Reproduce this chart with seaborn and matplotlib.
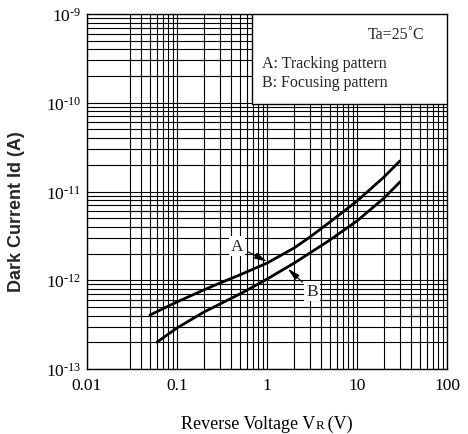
import matplotlib
matplotlib.use("Agg")
import matplotlib.pyplot as plt
import seaborn as sns
import numpy as np
import pandas as pd
from matplotlib.patches import Rectangle
from matplotlib.offsetbox import TextArea, HPacker, AnnotationBbox
from matplotlib.ticker import FixedLocator, FuncFormatter, NullFormatter

# ---- data ----
a_voltage = [0.05, 0.1, 0.2, 0.3, 0.5, 1, 2, 3, 5, 10, 20, 30]
a_current = [4.05e-13, 5.7e-13, 7.8e-13, 9.3e-13, 1.15e-12, 1.56e-12,
             2.31e-12, 3.07e-12, 4.53e-12, 7.8e-12, 1.46e-11, 2.21e-11]
b_voltage = [0.06, 0.1, 0.2, 0.3, 0.5, 1, 2, 3, 5, 10, 20, 30]
b_current = [2.01e-13, 2.9e-13, 4.39e-13, 5.4e-13, 7.0e-13, 1.03e-12,
             1.56e-12, 2.03e-12, 2.84e-12, 4.66e-12, 8.45e-12, 1.28e-11]
x_ticks = [0.01, 0.1, 1, 10, 100]
x_tick_labels = ["0.01", "0.1", "1", "10", "100"]
y_ticks = [1e-13, 1e-12, 1e-11, 1e-10, 1e-9]

sns.set_style("white")
plt.rcParams["font.family"] = ["Liberation Serif", "DejaVu Serif"]
plt.rcParams["mathtext.fontset"] = "custom"
plt.rcParams["mathtext.rm"] = "Liberation Serif"
plt.rcParams["mathtext.it"] = "Liberation Serif:italic"
plt.rcParams["mathtext.bf"] = "Liberation Serif:bold"

df = pd.concat([
    pd.DataFrame({"V": a_voltage, "I": a_current, "s": "A"}),
    pd.DataFrame({"V": b_voltage, "I": b_current, "s": "B"}),
])

fig = plt.figure(figsize=(4.68, 4.35), dpi=100)
ax = fig.add_axes([87 / 468, 65 / 435, 360 / 468, 355 / 435])

sns.lineplot(data=df, x="V", y="I", units="s", estimator=None, sort=True,
             color="black", lw=2.0, ax=ax, zorder=2.8)

ax.set_xscale("log")
ax.set_yscale("log")
ax.set_xlim(0.01, 100)
ax.set_ylim(1e-13, 1e-9)

minor_x = [k * 10.0 ** d for d in range(-2, 2) for k in range(2, 10)]
minor_x = [v for v in minor_x if not np.isclose(v, 0.02)]
minor_y = [k * 10.0 ** d for d in range(-13, -9) for k in range(2, 10)]


def sci(v, pos):
    e = int(round(np.log10(v)))
    return r"$10^{\text{%d}}$" % e


ax.xaxis.set_major_locator(FixedLocator(x_ticks))
ax.set_xticklabels(x_tick_labels)
ax.xaxis.set_minor_locator(FixedLocator(minor_x))
ax.xaxis.set_minor_formatter(NullFormatter())
ax.yaxis.set_major_locator(FixedLocator(y_ticks))
ax.yaxis.set_major_formatter(FuncFormatter(sci))
ax.yaxis.set_minor_locator(FixedLocator(minor_y))
ax.yaxis.set_minor_formatter(NullFormatter())

ax.grid(which="both", color="black", lw=0.8)
ax.set_axisbelow(True)
ax.tick_params(which="both", length=0, labelsize=12.5, colors="black")
ax.tick_params(axis="x", pad=6)
ax.tick_params(axis="y", pad=4)
for lab in ax.get_yticklabels():
    lab.set_verticalalignment("center_baseline")
for s in ax.spines.values():
    s.set_color("black")
    s.set_linewidth(1.0)

ax.set_xlabel("")
ax.set_ylabel("Dark Current Id (A)", family="Liberation Sans", fontweight="bold",
              fontsize=13)
ax.yaxis.set_label_coords(-0.172, 0.445)

# condition box
ax.add_patch(Rectangle((0.458, 0.7465), 0.542, 0.2535, transform=ax.transAxes,
                       fc="white", ec="black", lw=1.0, zorder=3))
ax.text(0.936, 0.944, "Ta=25˚C", transform=ax.transAxes, ha="right", va="center",
        fontsize=11.5, zorder=4)
ax.text(0.486, 0.862, "A: Tracking pattern", transform=ax.transAxes, ha="left",
        va="center", fontsize=11.5, zorder=4)
ax.text(0.486, 0.808, "B: Focusing pattern", transform=ax.transAxes, ha="left",
        va="center", fontsize=11.5, zorder=4)

arrow = dict(arrowstyle="-|>,head_length=0.6,head_width=0.15", color="black",
             lw=0.8, shrinkA=2, shrinkB=0)
ax.annotate("A", xy=(1.0, 1.62e-12), xytext=(0.464, 2.43e-12),
            ha="center", va="center", fontsize=12.5, arrowprops=arrow,
            bbox=dict(boxstyle="square,pad=0.1", fc="white", ec="none"), zorder=4)
ax.annotate("B", xy=(1.7, 1.35e-12), xytext=(3.16, 7.57e-13),
            ha="center", va="center", fontsize=12.5, arrowprops=arrow,
            bbox=dict(boxstyle="square,pad=0.1", fc="white", ec="none"), zorder=4)

# x label with small-cap R
tp = dict(fontsize=13, family="Liberation Serif", color="black")
parts = [TextArea("Reverse Voltage V", textprops=tp),
         TextArea("R", textprops=dict(tp, fontsize=9.5)),
         TextArea("\u2009(V)", textprops=tp)]
box = HPacker(children=parts, align="baseline", pad=0, sep=0)
ab = AnnotationBbox(box, (267 / 468, 1 - 424 / 435), xycoords="figure fraction",
                    frameon=False, box_alignment=(0.5, 0.5), annotation_clip=False)
fig.add_artist(ab)

fig.savefig("out.png", dpi=100)
